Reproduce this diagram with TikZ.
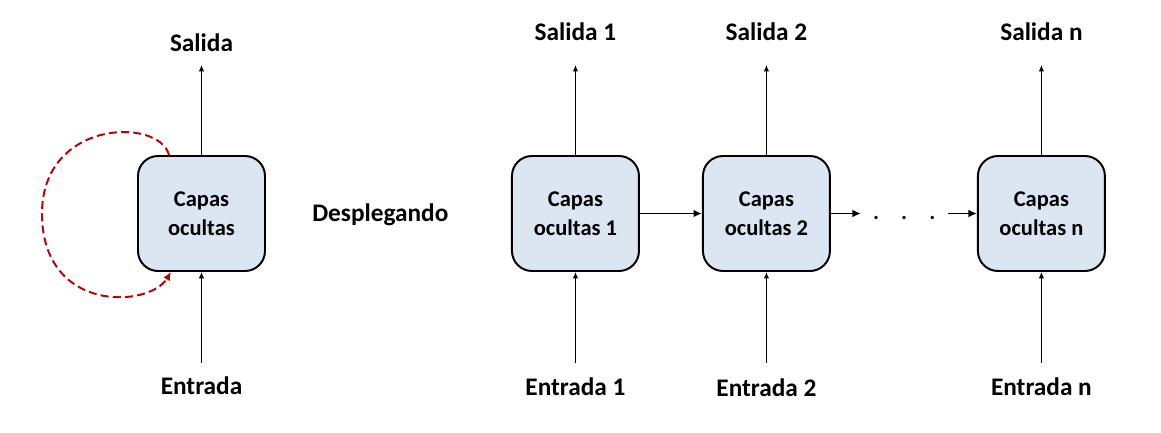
\documentclass[tikz,border=0pt]{standalone}
\usepackage{fontspec}
\setmainfont{Carlito}
\usepackage{xcolor}
\usepackage{tikz}
\usetikzlibrary{positioning,arrows.meta}
\definecolor{azulcapa}{HTML}{DCE6F2}
\definecolor{rojolazo}{HTML}{C00000}

\begin{document}
\begin{tikzpicture}[
    node distance=2cm,
    capa/.style={rectangle, rounded corners=0.5cm, draw=black, line width=1.4pt, fill=azulcapa, minimum width=3.175cm, minimum height=2.875cm, align=center, font=\fontsize{16}{20.5}\selectfont\bfseries},
    etiqueta/.style={inner sep=0pt, text height=11.4pt, text depth=0pt, font=\fontsize{18}{21}\selectfont\bfseries},
    puntos/.style={inner xsep=8.5pt, inner ysep=0pt, text height=9.2pt, text depth=0pt, font=\fontsize{16}{20}\selectfont\bfseries},
    flecha/.style={-{Latex[length=4.5pt,width=3.8pt]}, line width=0.7pt},
    enlace/.style={-{Latex[length=6pt,width=5.5pt]}, line width=1.4pt},
    lazo/.style={-{Latex[length=6pt,width=5.5pt]}, draw=rojolazo, line width=1.4pt, dash pattern=on 5.7pt off 3pt}
]
\useasboundingbox (-5.0375,-5.4875) rectangle (23.9875,5.3375);

% Capa recurrente
\node[capa] (capa_0) at (0,0) {Capas\\ocultas};
\coordinate[above=2.25cm of capa_0] (salida_0_fin);
\coordinate[below=2.275cm of capa_0] (entrada_0_ini);
\node[etiqueta] (salida_0) [above=0.325cm of salida_0_fin] {Salida};
\node[etiqueta] (entrada_0) [below=0.375cm of entrada_0_ini] {Entrada};
\coordinate (lazo_ini) at ([xshift=0.8cm]capa_0.north west);
\coordinate (lazo_izq) at ([xshift=-2.375cm]capa_0.west);
\coordinate (lazo_fin) at ([xshift=0.85cm]capa_0.south west);

% Texto central
\node[etiqueta] (desplegando) [right=1.15cm of capa_0] {Desplegando};

% Red desplegada
\node[capa] (capa_1) [right=6.125cm of capa_0] {Capas\\ocultas 1};
\node[capa] (capa_2) [right=1.55cm of capa_1] {Capas\\ocultas 2};
\node[puntos] (puntos) [right=0.75cm of capa_2] {.\hspace{15.7pt}.\hspace{15.7pt}.};
\node[capa] (capa_n) [right=3.65cm of capa_2] {Capas\\ocultas n};

\coordinate[above=2.25cm of capa_1] (salida_1_fin);
\coordinate[above=2.25cm of capa_2] (salida_2_fin);
\coordinate[above=2.25cm of capa_n] (salida_n_fin);
\coordinate[below=2.275cm of capa_1] (entrada_1_ini);
\coordinate[below=2.275cm of capa_2] (entrada_2_ini);
\coordinate[below=2.275cm of capa_n] (entrada_n_ini);

\node[etiqueta] (salida_1) [above=0.6cm of salida_1_fin] {Salida 1};
\node[etiqueta] (salida_2) [above=0.6cm of salida_2_fin] {Salida 2};
\node[etiqueta] (salida_n) [above=0.6cm of salida_n_fin] {Salida n};
\node[etiqueta] (entrada_1) [below=0.4cm of entrada_1_ini] {Entrada 1};
\node[etiqueta] (entrada_2) [below=0.44cm of entrada_2_ini] {Entrada 2};
\node[etiqueta] (entrada_n) [below=0.4cm of entrada_n_ini] {Entrada n};

% Conexiones
\draw[flecha] (capa_0) -- (salida_0_fin);
\draw[flecha] (entrada_0_ini) -- (capa_0);
\draw[lazo] (lazo_ini) .. controls +(-0.25,0.95) and +(0,2.35) .. (lazo_izq)
    .. controls +(0,-2.5) and +(-0.55,-0.9) .. (lazo_fin);

\draw[flecha] (capa_1) -- (salida_1_fin);
\draw[flecha] (capa_2) -- (salida_2_fin);
\draw[flecha] (capa_n) -- (salida_n_fin);
\draw[flecha] (entrada_1_ini) -- (capa_1);
\draw[flecha] (entrada_2_ini) -- (capa_2);
\draw[flecha] (entrada_n_ini) -- (capa_n);

\draw[enlace] (capa_1) -- (capa_2);
\draw[enlace] (capa_2) -- (puntos);
\draw[enlace] (puntos) -- (capa_n);

\end{tikzpicture}
\end{document}
